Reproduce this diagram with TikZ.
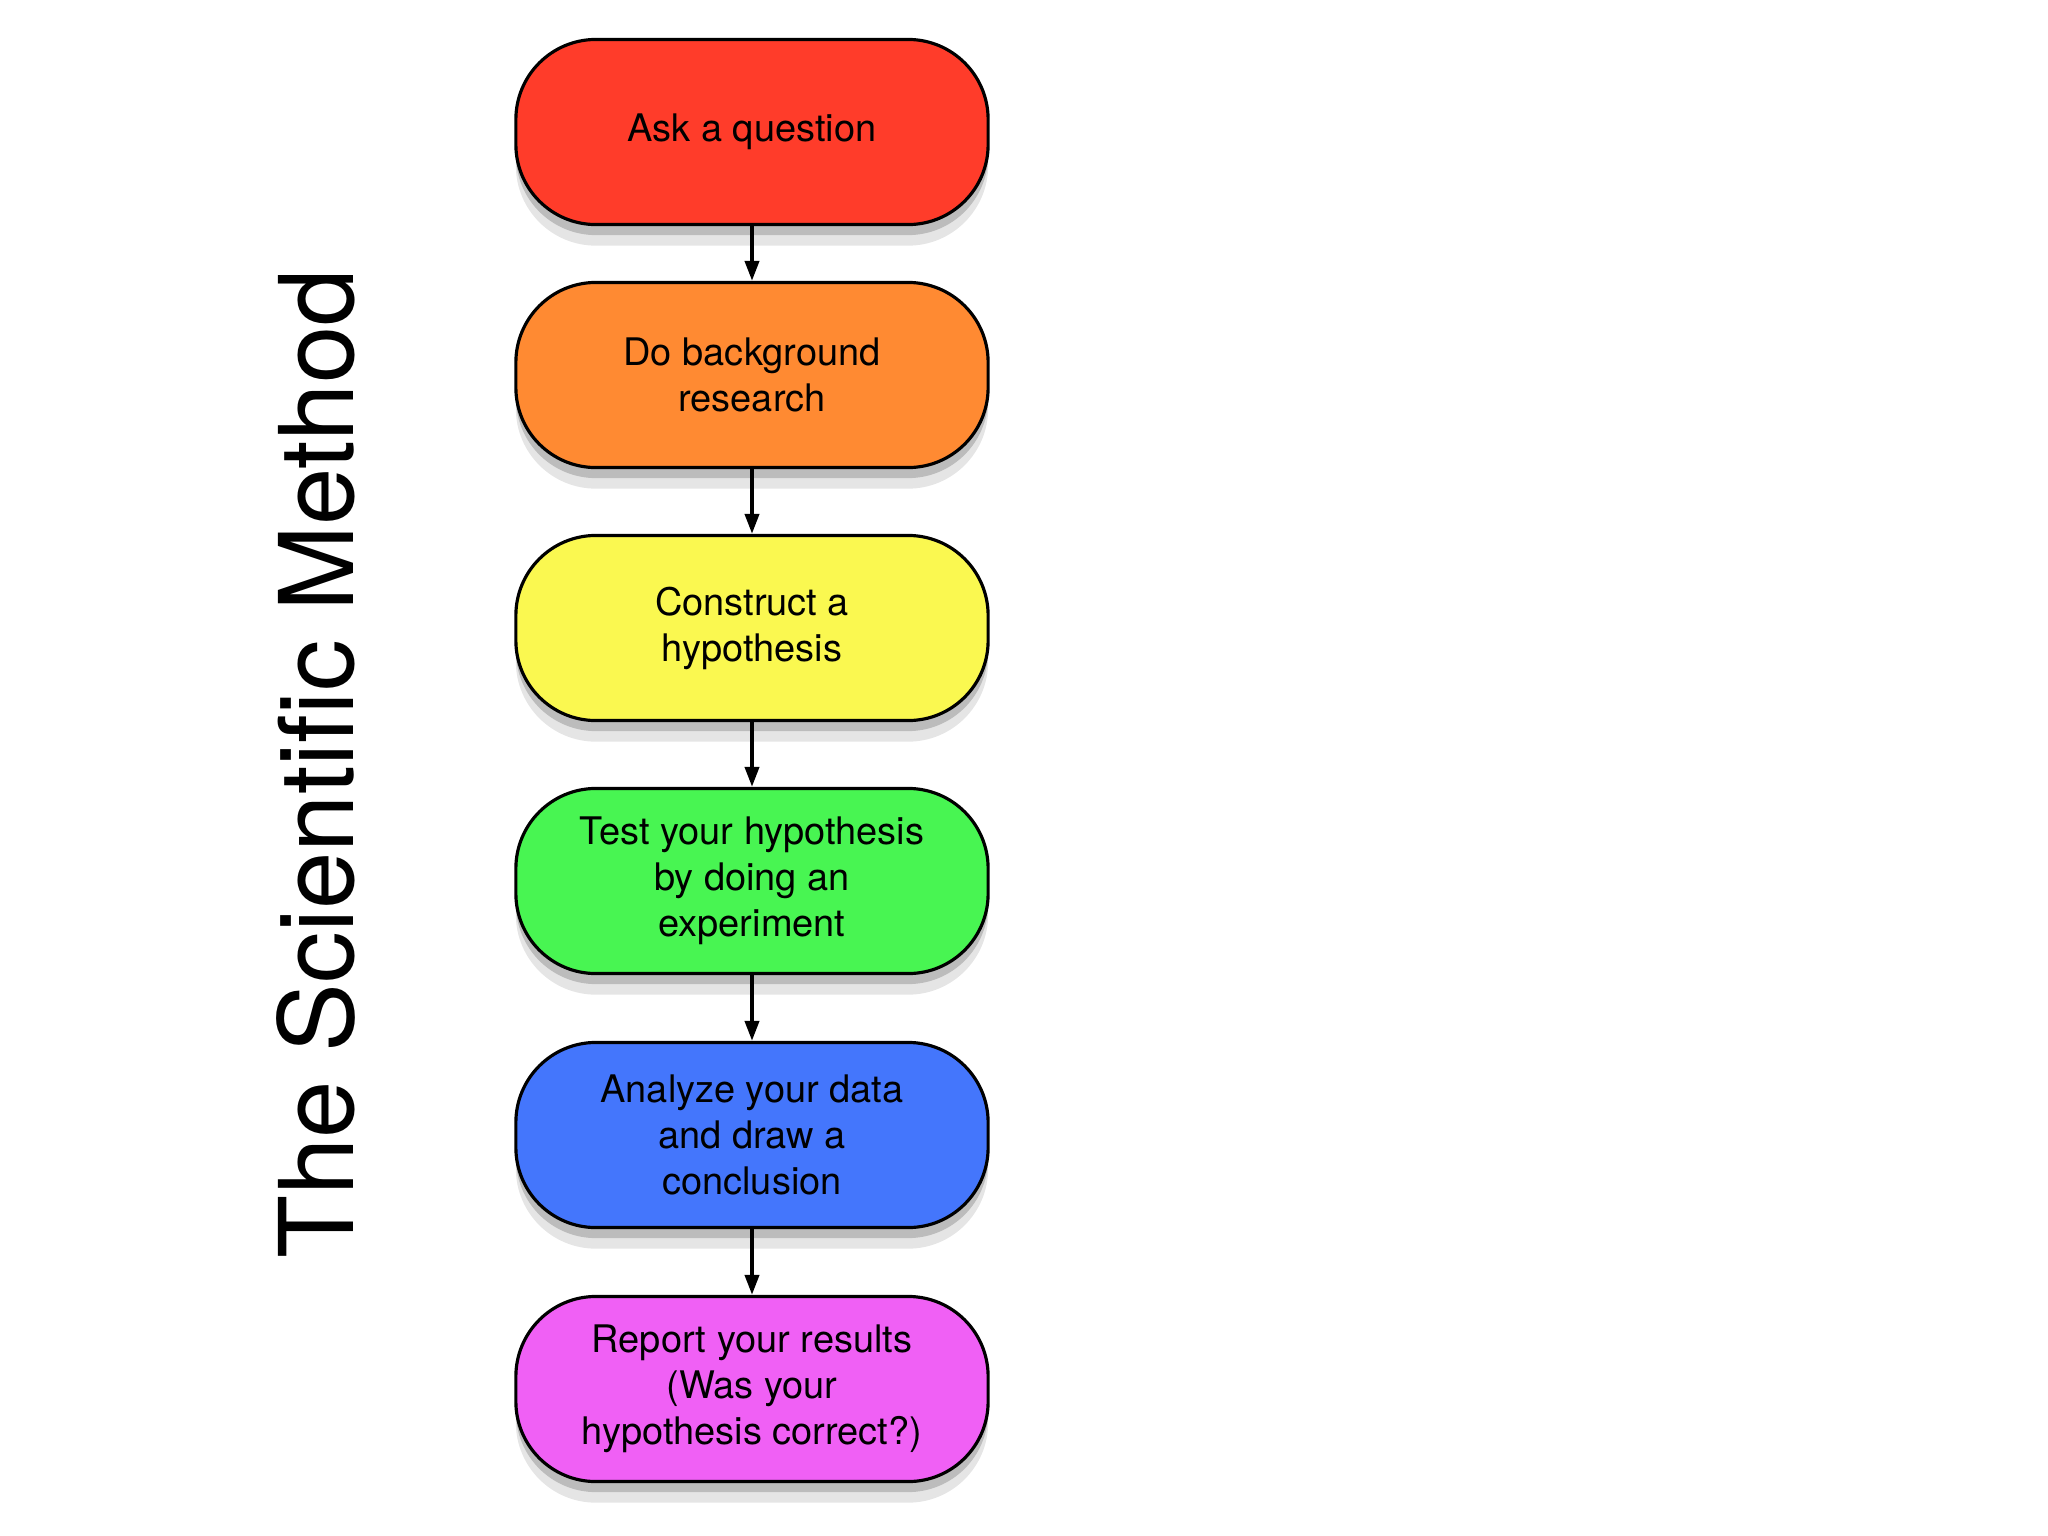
\documentclass[tikz,border=0pt]{standalone}
\usepackage{fontspec}
\setmainfont{TeX Gyre Heros}
\usetikzlibrary{arrows.meta,shadows}

\definecolor{stepred}{RGB}{255,60,42}
\definecolor{steporange}{RGB}{255,138,50}
\definecolor{stepyellow}{RGB}{250,248,80}
\definecolor{stepgreen}{RGB}{72,245,82}
\definecolor{stepblue}{RGB}{68,118,252}
\definecolor{stepmagenta}{RGB}{240,96,245}

\begin{document}
\begin{tikzpicture}[x = 0.01cm, y = -0.01cm,
	stage/.style = {draw, line width=0.9pt, rounded corners=0.8cm,
		minimum width=4.72cm, minimum height=1.85cm, align=center,
		font=\fontsize{10.8}{13.1}\selectfont,
		drop shadow={shadow xshift=0pt, shadow yshift=-6pt, opacity=0.10, fill=black},
		drop shadow={shadow xshift=0pt, shadow yshift=-3pt, opacity=0.18, fill=black}},
	flow/.style = {line width=1.1pt, -{Triangle[length=0.2cm, width=0.14cm]}},]
		
		\useasboundingbox (0,0) rectangle (2048,1536);
		
		\node[rotate=90, font=\fontsize{29.3}{32}\selectfont] (title) at (316,764) {The Scientific Method};
		
		\node[stage, fill=stepred] (Q) at (752,132) {Ask a question};
		\node[stage, fill=steporange] (R) at (752,375) {Do background\\research};
		\node[stage, fill=stepyellow] (H) at (752,628) {Construct a\\hypothesis};
		\node[stage, fill=stepgreen] (T) at (752,881) {Test your hypothesis\\by doing an\\experiment};
		\node[stage, fill=stepblue] (A) at (752,1135) {Analyze your data\\and draw a\\conclusion};
		\node[stage, fill=stepmagenta] (P) at (752,1389) {Report your results\\(Was your\\hypothesis correct?)};
		
		\draw[flow] (Q) -- (R);
		\draw[flow] (R) -- (H);
		\draw[flow] (H) -- (T);
		\draw[flow] (T) -- (A);
		\draw[flow] (A) -- (P);
		
	\end{tikzpicture}
\end{document}
